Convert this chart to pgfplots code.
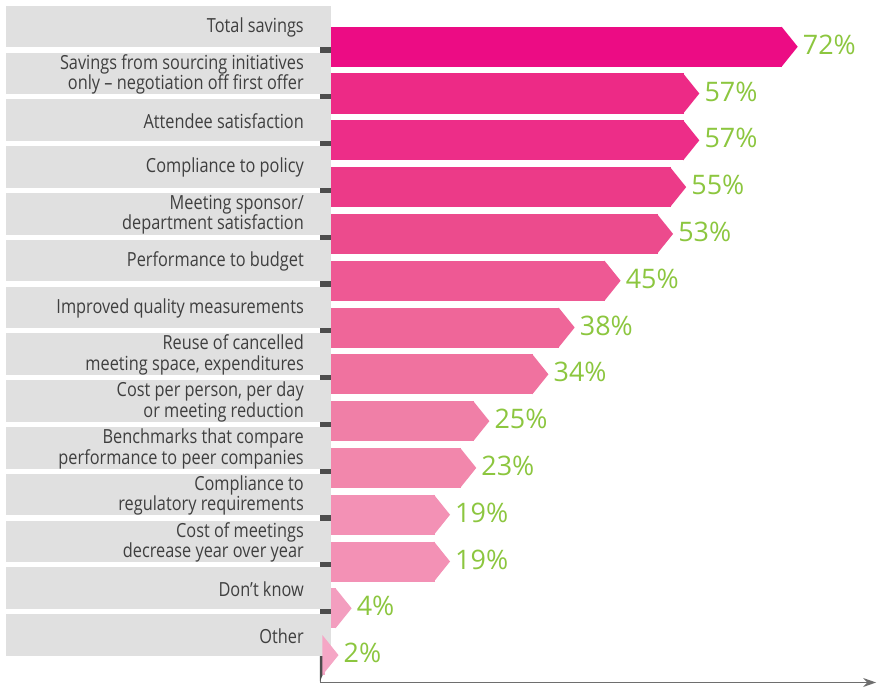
\documentclass[border=0pt]{standalone}
\usepackage{pgfplots}
\pgfplotsset{compat=1.18}
\usepackage{fontspec}
\setmainfont{Open Sans}
\newfontfamily\labfont{Open Sans}[FakeStretch=0.84]
\usetikzlibrary{arrows.meta}
\definecolor{c0}{HTML}{EC0C84}
\definecolor{c1}{HTML}{ED2A86}
\definecolor{c2}{HTML}{ED2D88}
\definecolor{c3}{HTML}{EC3A88}
\definecolor{c4}{HTML}{EC4B8D}
\definecolor{c5}{HTML}{EE5994}
\definecolor{c6}{HTML}{EF6699}
\definecolor{c7}{HTML}{F0729F}
\definecolor{c8}{HTML}{F07FA7}
\definecolor{c9}{HTML}{F287AC}
\definecolor{c10}{HTML}{F391B5}
\definecolor{c11}{HTML}{F391B5}
\definecolor{c12}{HTML}{F39EBF}
\definecolor{c13}{HTML}{F5A6C5}
\definecolor{gbox}{HTML}{E0E0E0}
\definecolor{ltxt}{HTML}{3F3F3F}
\definecolor{vgreen}{HTML}{8CC63F}
\definecolor{dtick}{HTML}{4D4D4D}
\definecolor{axc}{HTML}{6E6E6E}
\pgfdeclareplotmark{chev}{%
  \pgfpathmoveto{\pgfqpoint{-0.6pt}{20bp}}%
  \pgfpathlineto{\pgfqpoint{15.5bp}{0pt}}%
  \pgfpathlineto{\pgfqpoint{-0.6pt}{-20bp}}%
  \pgfpathclose\pgfusepathqfill}
\newcommand{\tipd}{2.36}
\newcommand{\chevbar}[3]{%
  \addplot[xbar, bar shift=0pt, bar width=0.855, fill=#3, draw=none,
    mark=chev, mark options={fill=#3, draw=none},
    point meta=explicit,
    nodes near coords={\pgfmathprintnumber[assume math mode=true]{\pgfplotspointmeta}\%},
    nodes near coords style={anchor=west, inner sep=0pt, xshift=20.5bp, yshift=2bp,
      font=\fontsize{27}{27}\selectfont, text=vgreen}]
    table[row sep=\\, x expr=\thisrow{v}-\tipd, y=r, meta=v] {r v\\ #1 #2\\};}
\newcommand{\lab}[2]{\node[anchor=east, align=right, inner sep=0pt,
  font=\labfont\fontsize{19.5}{20.7}\selectfont, text=ltxt] at (axis cs:-3.26,{#1-0.41}) {#2};}
\begin{document}
\begin{tikzpicture}
\begin{axis}[
  scale only axis, width=877bp, height=688bp,
  xmin=-49.60, xmax=84.09, ymin=-0.998, ymax=13.703,
  y dir=reverse, axis lines=none, clip=false,
  /pgf/number format/assume math mode=true,
]
\path (rel axis cs:0,0) rectangle (rel axis cs:1,1);
\draw[axc, line width=1pt] (axis cs:-0.82,-0.5) -- (axis cs:-0.82,13.585);
\chevbar{0}{72}{c0}
\chevbar{1}{57}{c1}
\chevbar{2}{57}{c2}
\chevbar{3}{55}{c3}
\chevbar{4}{53}{c4}
\chevbar{5}{45}{c5}
\chevbar{6}{38}{c6}
\chevbar{7}{34}{c7}
\chevbar{8}{25}{c8}
\chevbar{9}{23}{c9}
\chevbar{10}{19}{c10}
\chevbar{11}{19}{c11}
\chevbar{12}{4}{c12}
\chevbar{13}{2}{c13}
\pgfplotsinvokeforeach{0,...,12}{
  \fill[dtick] (axis cs:-0.82,{#1-0.05}) rectangle (axis cs:0.85,{#1+0.2});
}
\fill[dtick] (axis cs:-0.82,13.0) -- (axis cs:0.85,13.0) -- (axis cs:-0.82,13.56) -- cycle;
\pgfplotsinvokeforeach{0,...,13}{
  \fill[gbox] (axis cs:-48.69,{#1-0.876}) rectangle (axis cs:0.85,{#1+0.015});
}
\draw[axc, line width=1.3pt, -{Stealth[length=13bp, width=9bp]}] (axis cs:-0.82,13.585) -- (axis cs:83.95,13.585);
\lab{0}{Total savings}
\lab{1}{Savings from sourcing initiatives\\only – negotiation off first offer}
\lab{2}{Attendee satisfaction}
\lab{3}{Compliance to policy}
\lab{4}{Meeting sponsor/\\department satisfaction}
\lab{5}{Performance to budget}
\lab{6}{Improved quality measurements}
\lab{7}{Reuse of cancelled\\meeting space, expenditures}
\lab{8}{Cost per person, per day\\or meeting reduction}
\lab{9}{Benchmarks that compare\\performance to peer companies}
\lab{10}{Compliance to\\regulatory requirements}
\lab{11}{Cost of meetings\\decrease year over year}
\lab{12}{Don’t know}
\lab{13}{Other}
\end{axis}
\end{tikzpicture}
\end{document}
